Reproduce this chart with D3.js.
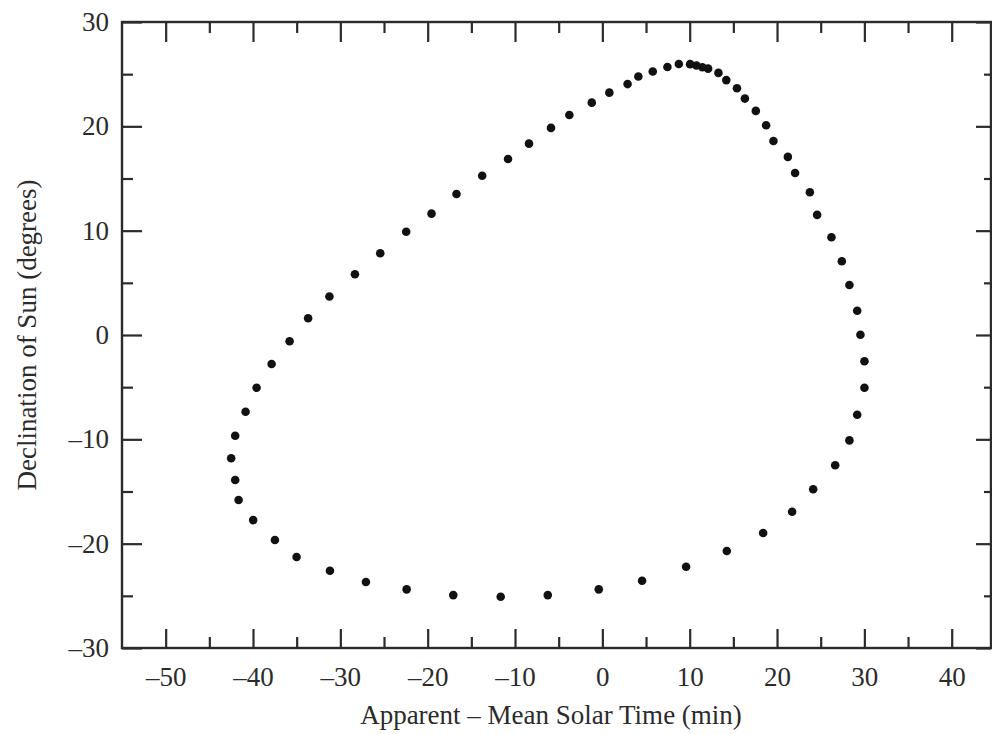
<!DOCTYPE html>
<html>

<head>
    <meta charset="UTF-8">
    <title>Analemma</title>
    <script src="https://cdn.jsdelivr.net/npm/d3@7/dist/d3.min.js"></script>
    <style>
        body { margin: 0; background: #fff; }
        svg { display: block; }
    </style>
</head>

<body>

    <svg class="analemma"></svg>

    <script>

        // apparent - mean solar time (min)
        var eqTime = [-11.64, -17.07, -22.41, -27.07, -31.19, -35.01, -37.49, -39.98, -41.65, -42.04,
            -42.50, -42.04, -40.85, -39.59, -37.87, -35.81, -33.69, -31.25, -28.33, -25.43,
            -22.46, -19.56, -16.70, -13.76, -10.80, -8.40, -5.88, -3.78, -1.21, 0.80,
            2.89, 4.12, 5.77, 7.45, 8.76, 10.05, 10.77, 11.45, 12.11, 13.29,
            14.19, 15.41, 16.32, 17.57, 18.75, 19.59, 21.24, 22.07, 23.76, 24.59,
            26.23, 27.42, 28.29, 29.18, 29.55, 30.01, 30.01, 29.18, 28.29, 26.66,
            24.14, 21.73, 18.41, 14.25, 9.59, 4.55, -0.41, -6.25]

        // declination of the sun (degrees)
        var declination = [-25.09, -24.93, -24.38, -23.68, -22.60, -21.28, -19.65, -17.74, -15.82, -13.90,
            -11.82, -9.65, -7.35, -5.05, -2.78, -0.60, 1.60, 3.69, 5.82, 7.83,
            9.90, 11.63, 13.52, 15.27, 16.87, 18.34, 19.85, 21.09, 22.27, 23.23,
            24.05, 24.77, 25.26, 25.68, 25.98, 25.96, 25.83, 25.67, 25.53, 25.12,
            24.43, 23.65, 22.66, 21.48, 20.11, 18.60, 17.07, 15.53, 13.68, 11.51,
            9.37, 7.07, 4.79, 2.33, 0.03, -2.52, -5.05, -7.64, -10.10, -12.49,
            -14.78, -16.94, -18.98, -20.71, -22.21, -23.56, -24.38, -24.93]

        var xTicks = [-50, -40, -30, -20, -10, 0, 10, 20, 30, 40]
        var xMinorTicks = [-45, -35, -25, -15, -5, 5, 15, 25, 35]
        var yTicks = [-30, -20, -10, 0, 10, 20, 30]
        var yMinorTicks = [-25, -15, -5, 5, 15, 25]

        var xTitle = "Apparent \u2013 Mean Solar Time (min)"
        var yTitle = "Declination of Sun (degrees)"

        function fmt(d) {
            return d < 0 ? "\u2013" + Math.abs(d) : "" + d
        }

        function drawChart() {

            var svgWidth = 992,
                svgHeight = 734;
            var margin = { top: 22, right: 1, bottom: 86, left: 122 };
            var width = svgWidth - margin.left - margin.right;
            var height = svgHeight - margin.top - margin.bottom;
            var font = "'Liberation Serif', 'Times New Roman', serif";
            var ink = "#2b2b2b";

            var svg = d3.select('svg')
                .attr("width", svgWidth)
                .attr("height", svgHeight);

            var g = svg.append("g")
                .attr("transform", "translate(" + margin.left + "," + margin.top + ")");

            var x = d3.scaleLinear().domain([-55, 44.5]).range([0, width]);
            var y = d3.scaleLinear().domain([-30, 30]).range([height, 0]);

            // bottom axis with labels
            g.append("g")
                .attr("class", "axis x")
                .attr("transform", "translate(0," + height + ")")
                .call(d3.axisBottom(x).tickValues(xTicks).tickFormat(fmt)
                    .tickSizeInner(-19).tickSizeOuter(0).tickPadding(19));

            g.append("g")
                .attr("class", "axis x minor")
                .attr("transform", "translate(0," + height + ")")
                .call(d3.axisBottom(x).tickValues(xMinorTicks).tickFormat("")
                    .tickSizeInner(-11).tickSizeOuter(0));

            // top axis, ticks only
            g.append("g")
                .attr("class", "axis x top")
                .call(d3.axisTop(x).tickValues(xTicks).tickFormat("")
                    .tickSizeInner(-20).tickSizeOuter(0));

            g.append("g")
                .attr("class", "axis x top minor")
                .call(d3.axisTop(x).tickValues(xMinorTicks).tickFormat("")
                    .tickSizeInner(-11).tickSizeOuter(0));

            // left axis with labels
            g.append("g")
                .attr("class", "axis y")
                .call(d3.axisLeft(y).tickValues(yTicks).tickFormat(fmt)
                    .tickSizeInner(-20).tickSizeOuter(0).tickPadding(13));

            g.append("g")
                .attr("class", "axis y minor")
                .call(d3.axisLeft(y).tickValues(yMinorTicks).tickFormat("")
                    .tickSizeInner(-11).tickSizeOuter(0));

            // right axis, ticks only
            g.append("g")
                .attr("class", "axis y right")
                .attr("transform", "translate(" + width + ",0)")
                .call(d3.axisRight(y).tickValues(yTicks).tickFormat("")
                    .tickSizeInner(-15).tickSizeOuter(0));

            g.append("g")
                .attr("class", "axis y right minor")
                .attr("transform", "translate(" + width + ",0)")
                .call(d3.axisRight(y).tickValues(yMinorTicks).tickFormat("")
                    .tickSizeInner(-7).tickSizeOuter(0));

            g.selectAll(".axis .domain").remove();
            g.selectAll(".axis line")
                .attr("stroke", ink)
                .attr("stroke-width", 2.2);
            g.selectAll(".axis text")
                .attr("fill", ink)
                .attr("font-family", font)
                .attr("font-size", 27);

            // frame
            g.append("rect")
                .attr("x", 0)
                .attr("y", 0)
                .attr("width", width)
                .attr("height", height)
                .attr("fill", "none")
                .attr("stroke", ink)
                .attr("stroke-width", 2.4);

            // points
            g.append("g")
                .attr("class", "dots")
                .selectAll("circle")
                .data(eqTime)
                .enter()
                .append("circle")
                .attr("cx", function (d) { return x(d) })
                .attr("cy", function (d, i) { return y(declination[i]) })
                .attr("r", 4.3)
                .attr("fill", "#111");

            // axis titles
            svg.append("text")
                .attr("x", 551)
                .attr("y", 724)
                .attr("text-anchor", "middle")
                .attr("fill", ink)
                .attr("font-family", font)
                .attr("font-size", 27)
                .text(xTitle);

            svg.append("text")
                .attr("transform", "translate(36," + (margin.top + height / 2) + ") rotate(-90)")
                .attr("text-anchor", "middle")
                .attr("fill", ink)
                .attr("font-family", font)
                .attr("font-size", 27)
                .text(yTitle);
        }

        drawChart()
    </script>

</body>

</html>
